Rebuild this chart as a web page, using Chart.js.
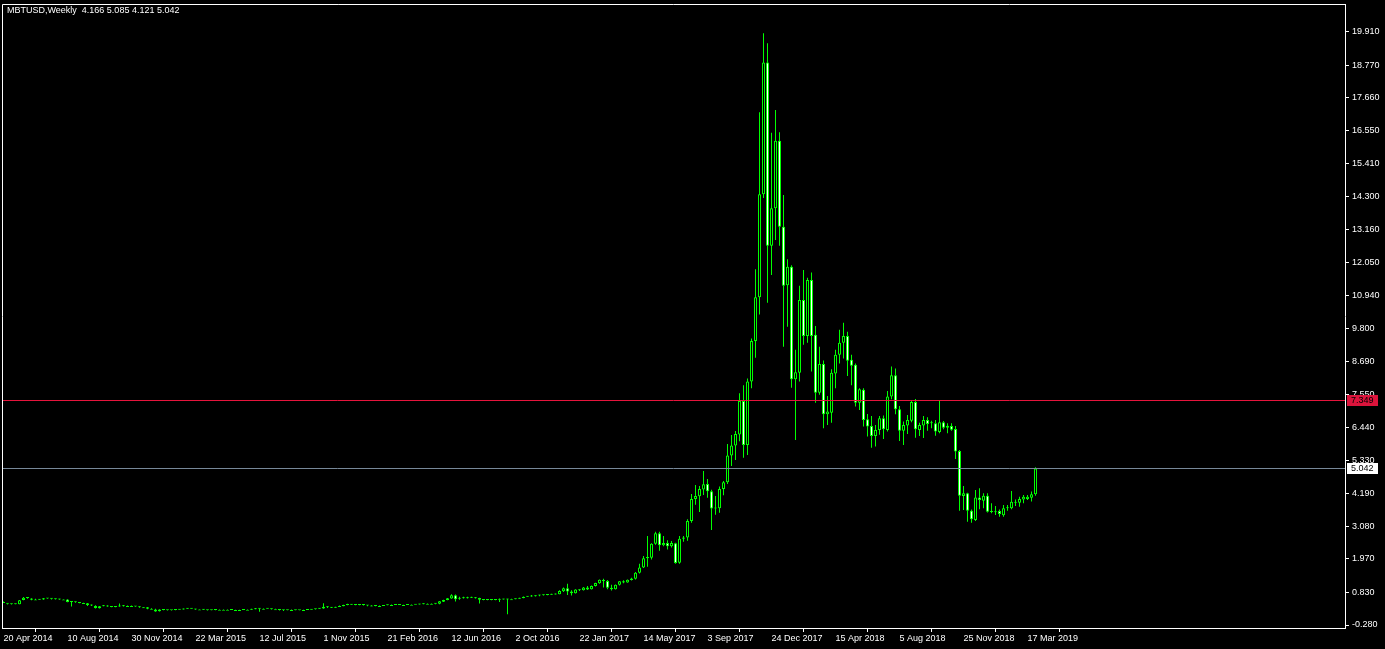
<!DOCTYPE html>
<html><head><meta charset="utf-8">
<script src="https://cdn.jsdelivr.net/npm/chart.js@4.4.0/dist/chart.umd.min.js"></script>
<style>html,body{margin:0;padding:0;background:#000;overflow:hidden}canvas{display:block}</style>
</head><body>
<canvas id="c" width="1385" height="649"></canvas>
<script>
const chartTitle = 'MBTUSD,Weekly  4.166 5.085 4.121 5.042';

// weekly candles, 20 Apr 2014 .. 31 Mar 2019 (prices in thousands)
const opens = [
.50,.45,.44,.43,.43,.57,.65,.62,.59,.59,.59,.63,.62,.61,.60,.59,.59,.50,.51,.49,
.47,.46,.40,.37,.29,.36,.38,.35,.33,.35,.37,.37,.37,.37,.35,.32,.32,.27,.25,.19,
.25,.23,.22,.23,.24,.25,.27,.28,.27,.25,.25,.24,.22,.23,.24,.24,.24,.24,.23,.23,
.23,.24,.24,.26,.28,.27,.27,.27,.26,.26,.23,.22,.23,.23,.22,.23,.23,.24,.26,.27,
.28,.34,.32,.31,.33,.36,.40,.42,.41,.40,.41,.40,.38,.38,.37,.37,.39,.40,.40,.41,
.40,.40,.41,.41,.42,.43,.44,.44,.44,.44,.51,.57,.62,.73,.61,.64,.63,.66,.65,.64,
.59,.57,.58,.57,.58,.60,.59,.60,.60,.61,.64,.68,.69,.70,.72,.73,.74,.75,.76,.77,
.87,.97,.86,.80,.93,.90,1.00,.94,1.05,1.14,1.25,1.22,.99,.94,1.09,1.21,1.17,1.25,1.29,1.50,
1.68,1.99,2.01,2.48,2.84,2.43,2.51,2.40,2.50,1.84,2.65,2.70,3.26,4.01,4.10,4.33,4.52,4.27,3.68,3.69,
4.35,4.58,5.49,5.83,6.20,7.34,5.84,8.00,9.38,10.87,14.37,18.86,12.62,13.90,16.19,13.27,11.28,11.91,8.08,8.30,
10.78,9.55,11.46,9.59,7.62,8.60,6.89,6.94,8.28,8.91,9.32,9.55,8.74,8.57,7.28,7.72,6.72,6.49,6.15,6.35,
6.75,6.35,7.49,8.22,7.06,6.33,6.51,6.67,7.31,6.35,6.51,6.69,6.58,6.58,6.29,6.62,6.43,6.49,6.39,5.64,
4.11,4.20,3.61,3.29,4.06,3.95,4.12,3.60,3.59,3.60,3.45,3.69,3.69,3.91,3.88,3.99,4.01,4.05,4.166];
const highs = [
.52,.46,.45,.45,.57,.67,.67,.63,.61,.60,.64,.64,.63,.62,.61,.60,.60,.52,.52,.50,
.48,.47,.42,.39,.37,.40,.39,.36,.35,.45,.40,.38,.38,.37,.36,.33,.33,.29,.27,.26,
.26,.24,.23,.25,.25,.28,.30,.29,.27,.26,.26,.24,.24,.24,.25,.25,.25,.25,.24,.24,
.25,.25,.27,.30,.29,.28,.29,.28,.27,.26,.24,.24,.25,.24,.23,.24,.25,.26,.27,.30,
.46,.36,.33,.34,.38,.41,.44,.43,.42,.42,.42,.40,.39,.38,.38,.40,.42,.42,.42,.42,
.41,.42,.42,.42,.44,.46,.45,.45,.46,.54,.58,.64,.77,.76,.68,.68,.68,.68,.67,.65,
.60,.60,.59,.58,.62,.61,.61,.61,.62,.65,.69,.70,.74,.73,.75,.76,.77,.78,.79,.90,
1.00,1.12,.90,.94,.94,1.01,1.05,1.06,1.16,1.27,1.29,1.25,1.09,1.10,1.22,1.24,1.27,1.33,1.52,1.80,
2.07,2.75,2.50,2.89,2.89,2.75,2.60,2.58,2.52,2.75,2.75,3.32,4.18,4.48,4.45,4.96,4.69,4.32,4.11,4.43,
4.62,5.88,6.18,6.32,7.60,7.88,8.11,9.47,11.82,17.16,19.85,19.51,16.47,17.24,16.48,14.35,12.16,11.96,9.08,11.26,
11.80,11.53,11.71,9.89,9.19,8.72,7.51,8.42,9.08,9.76,10.00,9.70,8.91,8.62,7.77,7.77,6.90,6.83,6.52,6.83,
6.85,7.68,8.51,8.45,7.17,6.64,6.86,7.34,7.41,6.60,6.83,6.79,6.67,6.69,7.34,6.66,6.58,6.58,6.49,5.67,
4.45,4.22,3.65,4.31,4.37,4.20,4.20,3.86,3.77,3.65,3.80,3.80,4.28,3.99,4.08,4.14,4.14,4.26,5.085];
const lows = [
.49,.42,.42,.43,.43,.56,.61,.56,.57,.57,.58,.61,.59,.59,.58,.58,.49,.35,.48,.46,
.46,.37,.37,.28,.28,.36,.34,.32,.32,.34,.35,.35,.36,.34,.31,.31,.26,.26,.17,.18,
.22,.21,.21,.22,.23,.25,.27,.27,.24,.24,.23,.21,.22,.22,.23,.23,.23,.23,.22,.22,
.23,.23,.24,.26,.17,.26,.27,.25,.25,.21,.20,.22,.23,.22,.22,.22,.23,.24,.25,.27,
.27,.30,.30,.31,.33,.36,.39,.40,.39,.39,.38,.36,.36,.36,.36,.37,.39,.39,.40,.40,
.40,.40,.40,.41,.42,.43,.43,.43,.43,.43,.50,.56,.61,.52,.58,.62,.62,.64,.62,.45,
.56,.56,.56,.56,.50,.59,.09,.59,.60,.61,.63,.67,.68,.69,.70,.72,.73,.75,.76,.77,
.84,.74,.72,.79,.88,.89,.91,.93,1.03,1.12,1.00,.94,.89,.93,1.06,1.14,1.16,1.23,1.27,1.47,
1.66,1.70,1.95,2.45,2.25,2.40,2.29,2.36,1.80,1.80,2.55,2.59,3.20,3.81,3.56,4.14,4.05,2.95,3.47,3.54,
4.13,4.52,5.13,5.33,5.97,5.41,5.50,7.77,8.81,10.28,14.25,10.68,11.63,12.82,12.62,9.19,9.87,7.79,6.01,8.00,
9.25,9.32,8.34,7.28,7.55,6.41,6.52,6.60,7.77,8.62,8.79,8.19,7.88,7.15,7.03,6.47,6.13,5.75,5.79,6.19,
6.05,6.30,7.40,6.89,5.98,5.84,6.22,6.62,6.09,6.15,6.08,6.33,6.41,6.16,6.24,6.38,6.24,6.33,5.37,3.61,
3.63,3.23,3.20,3.26,3.66,3.69,3.55,3.52,3.46,3.40,3.40,3.61,3.66,3.77,3.74,3.86,3.97,3.92,4.121];
const closes = [
.50,.44,.43,.44,.56,.65,.64,.58,.59,.58,.63,.62,.61,.60,.59,.59,.50,.51,.49,.47,
.47,.40,.38,.30,.36,.38,.35,.33,.34,.37,.36,.37,.37,.35,.32,.32,.27,.27,.18,.25,
.23,.22,.23,.24,.25,.27,.28,.27,.25,.25,.24,.22,.23,.24,.24,.24,.24,.23,.23,.23,
.24,.24,.26,.28,.27,.27,.28,.26,.26,.23,.22,.23,.23,.22,.23,.23,.24,.26,.27,.30,
.34,.32,.31,.33,.36,.40,.42,.41,.40,.41,.40,.38,.38,.37,.37,.39,.40,.40,.41,.40,
.40,.41,.41,.42,.43,.44,.44,.44,.45,.53,.57,.63,.73,.60,.63,.63,.66,.65,.63,.58,
.57,.58,.57,.58,.60,.59,.60,.60,.61,.64,.68,.69,.70,.72,.73,.74,.75,.76,.78,.88,
.97,.86,.80,.93,.90,1.00,.93,1.05,1.15,1.26,1.22,.99,.94,1.09,1.21,1.17,1.26,1.30,1.50,1.68,
1.99,2.03,2.48,2.84,2.43,2.51,2.40,2.51,1.83,2.65,2.70,3.26,4.01,4.11,4.35,4.51,4.27,3.68,3.70,4.35,
4.58,5.49,5.83,6.22,7.34,5.84,8.00,9.38,10.87,14.37,18.86,12.62,13.90,16.19,13.27,11.26,11.91,8.08,8.32,10.78,
9.55,11.46,9.55,7.62,8.60,6.89,6.98,8.30,8.91,9.32,9.55,8.71,8.54,7.28,7.74,6.69,6.47,6.15,6.35,6.75,
6.38,7.49,8.22,7.06,6.33,6.52,6.69,7.31,6.38,6.52,6.69,6.56,6.60,6.30,6.62,6.43,6.50,6.36,5.62,4.12,
4.20,3.61,3.32,4.06,3.97,4.12,3.57,3.60,3.59,3.50,3.69,3.72,3.91,3.91,4.01,4.08,4.08,4.17,5.042];

const xTickIndex = [0,16,32,48,64,80,96,112,128,144,160,176,192,208,224,240,256];
const xTickLabels = ['20 Apr 2014','10 Aug 2014','30 Nov 2014','22 Mar 2015','12 Jul 2015','1 Nov 2015',
  '21 Feb 2016','12 Jun 2016','2 Oct 2016','22 Jan 2017','14 May 2017','3 Sep 2017','24 Dec 2017',
  '15 Apr 2018','5 Aug 2018','25 Nov 2018','17 Mar 2019'];
const yTickValues = [19.910,18.770,17.660,16.550,15.410,14.300,13.160,12.050,10.940,9.800,8.690,7.550,
  6.440,5.330,4.190,3.080,1.970,0.830,-0.280];
const levelLine = 7.349;
const bidLine = 5.042;

const FONT = {family:'Liberation Sans', size:9};
const LIME = '#00ff00';

const wickData = opens.map((o,i)=>({x:i, y:[lows[i], highs[i]]}));
const bodyData = opens.map((o,i)=>({x:i, y:[Math.min(o,closes[i]), Math.max(o,closes[i])]}));
const bodyFill = opens.map((o,i)=> closes[i] >= o ? '#000000' : '#ffffff');

const overlay = {
  id:'overlay',
  afterDatasetsDraw(chart){
    const {ctx, chartArea:a, scales:{y}} = chart;
    ctx.save();
    const line = (v,color)=>{
      const py = Math.floor(y.getPixelForValue(v)) + 0.5;
      ctx.strokeStyle = color; ctx.lineWidth = 1;
      ctx.beginPath(); ctx.moveTo(a.left, py); ctx.lineTo(a.right, py); ctx.stroke();
    };
    line(levelLine, '#e6143c');
    line(bidLine, '#778899');
    ctx.restore();
  },
  afterDraw(chart){
    const {ctx, chartArea:a, scales:{y}} = chart;
    ctx.save();
    // frame top and left
    ctx.strokeStyle = '#ffffff'; ctx.lineWidth = 1;
    ctx.beginPath();
    ctx.moveTo(2.5, a.bottom); ctx.lineTo(2.5, 4.5); ctx.lineTo(a.right, 4.5);
    ctx.stroke();
    // price labels
    ctx.font = FONT.size + 'px "' + FONT.family + '"';
    ctx.textBaseline = 'middle';
    const tag = (v, bg, fg)=>{
      const py = Math.floor(y.getPixelForValue(v));
      ctx.fillStyle = bg;
      ctx.fillRect(a.right + 2, py - 5, 31, 11);
      ctx.fillStyle = fg;
      ctx.fillText(v.toFixed(3), a.right + 6, py + 0.5);
    };
    tag(levelLine, '#dc143c', '#000000');
    tag(bidLine, '#ffffff', '#000000');
    // title
    ctx.fillStyle = '#ffffff';
    ctx.fillText(chartTitle, 7, 10.5);
    ctx.restore();
  }
};

new Chart(document.getElementById('c').getContext('2d'), {
  type:'bar',
  data:{datasets:[
    {data:wickData, backgroundColor:LIME, borderWidth:0, barThickness:1, grouped:false, order:2, inflateAmount:0},
    {data:bodyData, backgroundColor:bodyFill, borderColor:LIME, borderWidth:1, borderSkipped:false,
     barThickness:3, minBarLength:1, grouped:false, order:1, inflateAmount:0}
  ]},
  options:{
    responsive:false, animation:false, devicePixelRatio:1,
    layout:{padding:{left:2, top:4, right:0, bottom:0}},
    plugins:{legend:{display:false}, tooltip:{enabled:false}, title:{display:false}},
    scales:{
      x:{
        type:'linear', min:-0.375, max:335.375, offset:false,
        grid:{display:true, drawOnChartArea:false, drawTicks:true, tickLength:4, color:'#ffffff'},
        border:{display:true, color:'#ffffff'},
        ticks:{color:'#ffffff', font:FONT, align:'start', padding:1, autoSkip:false, maxRotation:0,
               callback:(v,i)=> xTickLabels[i]},
        afterBuildTicks:(s)=>{ s.ticks = xTickIndex.map(v=>({value:v})); },
        afterFit:(s)=>{ s.height = 21; s.paddingLeft = 0; s.paddingRight = 0; }
      },
      y:{
        position:'right', min:-0.382, max:20.846,
        grid:{display:true, drawOnChartArea:false, drawTicks:true, tickLength:4, color:'#ffffff'},
        border:{display:true, color:'#ffffff'},
        ticks:{color:'#ffffff', font:FONT, padding:3, autoSkip:false, callback:(v)=> Number(v).toFixed(3)},
        afterBuildTicks:(s)=>{ s.ticks = yTickValues.map(v=>({value:v})); },
        afterFit:(s)=>{ s.width = 40; s.paddingTop = 0; s.paddingBottom = 0; }
      }
    }
  },
  plugins:[overlay]
});
</script>
</body></html>
